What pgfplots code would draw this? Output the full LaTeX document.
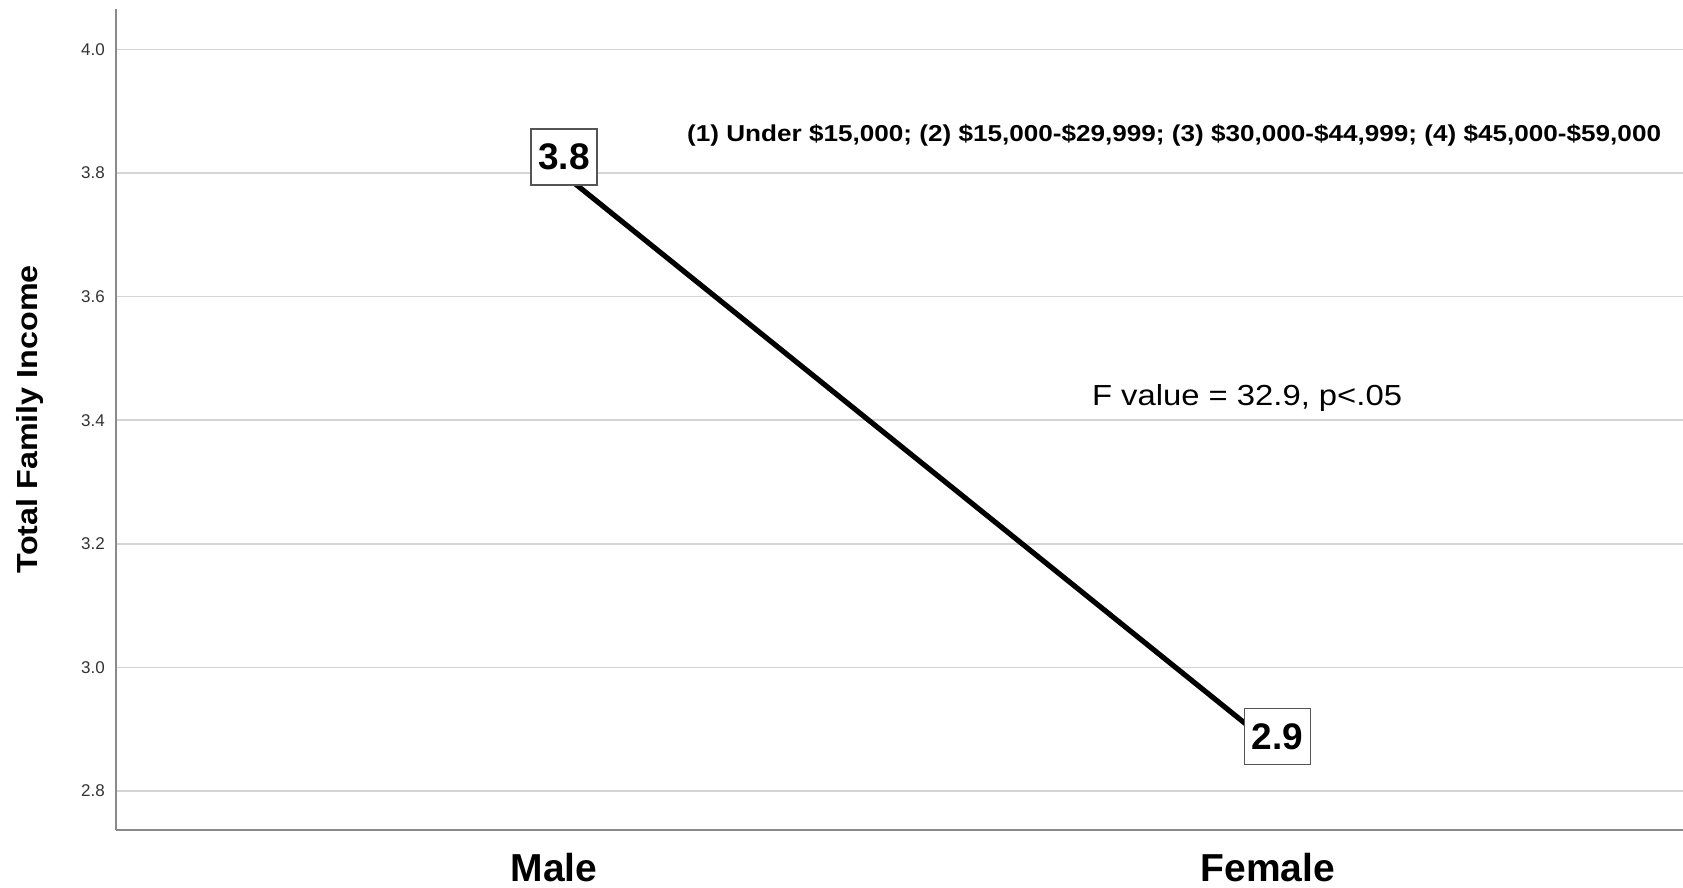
\documentclass[border=0pt]{standalone}
\usepackage{fontspec}
\setmainfont{Liberation Sans}
\usepackage{graphicx}
\usepackage{pgfplots}
\pgfplotsset{compat=1.18}
\definecolor{gridc}{HTML}{D4D4D4}
\definecolor{axc}{HTML}{8A8A8A}
\definecolor{tickc}{HTML}{333333}
\definecolor{boxc}{HTML}{555555}
\begin{document}
\begin{tikzpicture}
\begin{axis}[
  scale only axis, width=783.5pt, height=410.7pt,
  xmin=-0.614, xmax=1.582, ymin=2.737, ymax=4.066,
  axis x line=bottom, axis y line=left,
  axis line style={-, draw=axc, line width=1.2pt},
  xtick={0,1}, xticklabels={Male,Female},
  ytick={2.8,3.0,3.2,3.4,3.6,3.8,4.0},
  major tick length=0pt,
  ymajorgrids, grid style={draw=gridc, line width=0.8pt},
  /pgf/number format/assume math mode=true,
  yticklabel style={font=\fontsize{8.5}{10}\selectfont, text=tickc,
    /pgf/number format/fixed, /pgf/number format/fixed zerofill,
    /pgf/number format/precision=1, inner sep=0pt, anchor=east, xshift=-5.4pt},
  xticklabel style={font=\bfseries\fontsize{19.5}{22}\selectfont, inner sep=0pt, anchor=north, yshift=-11.6pt},
  ylabel={\resizebox{154pt}{\height}{\bfseries\fontsize{14.5}{16}\selectfont Total Family Income}},
  ylabel style={at={(rel axis cs:0,0.5)}, anchor=center, yshift=43pt},
  clip=false,
]
\coordinate (bl) at (rel axis cs:0,0);
\coordinate (tr) at (rel axis cs:1,1);
\addplot[black, line width=2.6pt] coordinates {(0,3.81) (1,2.88)};
\addplot[draw=none, point meta=explicit symbolic, nodes near coords,
  nodes near coords style={draw=boxc, fill=white, line width=0.7pt, inner sep=0pt,
    minimum width=33pt, minimum height=28pt, anchor=center, xshift=5pt, yshift=5pt,
    font=\bfseries\fontsize{18.5}{20}\selectfont}]
  coordinates {(0,3.81) [3.8]};
\addplot[draw=none, point meta=explicit symbolic, nodes near coords,
  nodes near coords style={draw=boxc, fill=white, line width=0.7pt, inner sep=0pt,
    minimum width=33pt, minimum height=28pt, anchor=center, xshift=5pt, yshift=2.5pt,
    font=\bfseries\fontsize{18.5}{20}\selectfont}]
  coordinates {(1,2.88) [2.9]};
\node[inner sep=0pt] at (axis cs:0.869,3.861) {\resizebox{487pt}{\height}{\bfseries\fontsize{11.5}{13}\selectfont (1) Under \$15,000; (2) \$15,000-\$29,999; (3) \$30,000-\$44,999; (4) \$45,000-\$59,000}};
\node[inner sep=0pt] at (axis cs:0.971,3.4365) {\resizebox{155pt}{\height}{\fontsize{14.5}{16}\selectfont F value = 32.9, p<.05}};
\end{axis}
\pgfresetboundingbox
\path ([xshift=-58pt,yshift=-29pt]bl) rectangle ([yshift=4.3pt]tr);
\end{tikzpicture}
\end{document}
